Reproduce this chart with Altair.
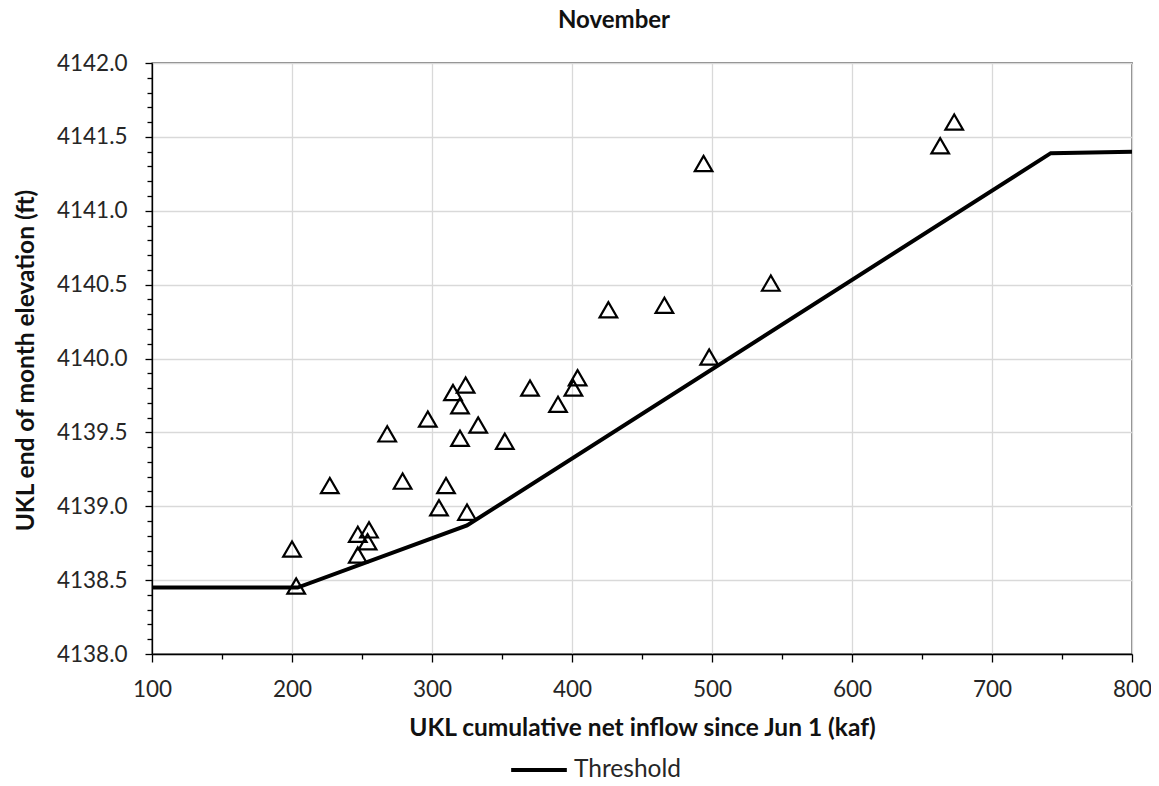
import altair as alt
import pandas as pd

FONT = "Lato"
TXT = "#262626"

# Observed end-of-November elevation vs cumulative net inflow
inflow_kaf = [200, 203, 227, 247, 255, 254, 247, 268, 279, 297, 305, 310, 315, 324, 320, 320,
              325, 333, 352, 370, 390, 401, 404, 426, 466, 498, 494, 542, 663, 673]
elev_ft = [4138.71, 4138.46, 4139.14, 4138.81, 4138.84, 4138.76, 4138.67, 4139.49, 4139.17, 4139.59,
           4138.99, 4139.14, 4139.77, 4139.82, 4139.68, 4139.46, 4138.96, 4139.55, 4139.44, 4139.80,
           4139.69, 4139.80, 4139.87, 4140.33, 4140.36, 4140.01, 4141.32, 4140.51, 4141.44, 4141.60]

# Threshold curve
thr_inflow = [100, 204, 325, 742, 800]
thr_elev = [4138.45, 4138.45, 4138.87, 4141.39, 4141.40]
thr_name = ["Threshold"] * len(thr_inflow)

x_ticks = [100, 150, 200, 250, 300, 350, 400, 450, 500, 550, 600, 650, 700, 750, 800]
y_ticks = [round(4138.0 + i * 0.1, 1) for i in range(41)]

pts = pd.DataFrame({"inflow": inflow_kaf, "elev": elev_ft})
thr = pd.DataFrame({"inflow": thr_inflow, "elev": thr_elev, "series": thr_name})

x_major = "datum.value % 100 == 0"
y_major = "round(datum.value * 10) % 5 == 0"

x_axis = alt.Axis(
    values=x_ticks,
    labelExpr=f"{x_major} ? format(datum.value, 'd') : ''",
    tickSize={"condition": {"test": x_major, "value": 8}, "value": 5},
    gridOpacity={"condition": {"test": x_major, "value": 1}, "value": 0},
    labelFlush=False,
    labelOverlap=False,
    labelPadding=16,
    titleX=490,
    titleY=81,
    titleBaseline="alphabetic",
)
y_axis = alt.Axis(
    values=y_ticks,
    labelExpr=f"{y_major} ? format(datum.value, '.1f') : ''",
    tickSize={"condition": {"test": y_major, "value": 7}, "value": 5},
    gridOpacity={"condition": {"test": y_major, "value": 1}, "value": 0},
    labelFlush=False,
    labelOverlap=False,
    labelPadding=18,
    titleX=-119,
    titleY=297,
    titleAngle=-90,
    titleAlign="center",
    titleBaseline="alphabetic",
)

x_enc = alt.X("inflow:Q", scale=alt.Scale(domain=[100, 800], nice=False, zero=False),
              axis=x_axis, title="UKL cumulative net inflow since Jun 1 (kaf)")
y_enc = alt.Y("elev:Q", scale=alt.Scale(domain=[4138.0, 4142.0], nice=False, zero=False),
              axis=y_axis, title="UKL end of month elevation (ft)")

line = alt.Chart(thr).mark_line(strokeWidth=4).encode(
    x=x_enc,
    y=y_enc,
    color=alt.Color(
        "series:N",
        scale=alt.Scale(domain=["Threshold"], range=["black"]),
        legend=alt.Legend(
            title=None, orient="none", legendX=357, legendY=677, direction="horizontal",
            symbolType="stroke", symbolStrokeWidth=4, symbolSize=3100,
            labelFont=FONT, labelFontSize=24.5, labelColor=TXT, labelOffset=5, padding=0,
        ),
    ),
)

points = alt.Chart(pts).mark_point(
    shape="triangle-up", filled=False, stroke="black", strokeWidth=2.2, size=310, opacity=1
).encode(x=x_enc, y=y_enc)

chart = (
    alt.layer(line, points)
    .properties(
        width=980,
        height=591,
        background="white",
        title=alt.Title("November", font=FONT, fontSize=24, fontWeight="bold", color="#111111",
                        anchor="middle", dx=-28, offset=19),
        autosize=alt.AutoSizeParams(type="none"),
        padding={"left": 144, "top": 55, "right": 19, "bottom": 128},
    )
    .configure_view(stroke="black", strokeWidth=1.3)
    .configure_axis(
        domainColor="black", domainWidth=1.3, tickColor="black", tickWidth=1.3,
        gridColor="#d9d9d9", gridWidth=1.3,
        labelFont=FONT, labelFontSize=22.5, labelColor=TXT,
        titleFont=FONT, titleFontSize=24.5, titleFontWeight="bold", titleColor="#111111",
    )
)

chart.save("out.html", embed_options={"renderer": "svg", "actions": False})
